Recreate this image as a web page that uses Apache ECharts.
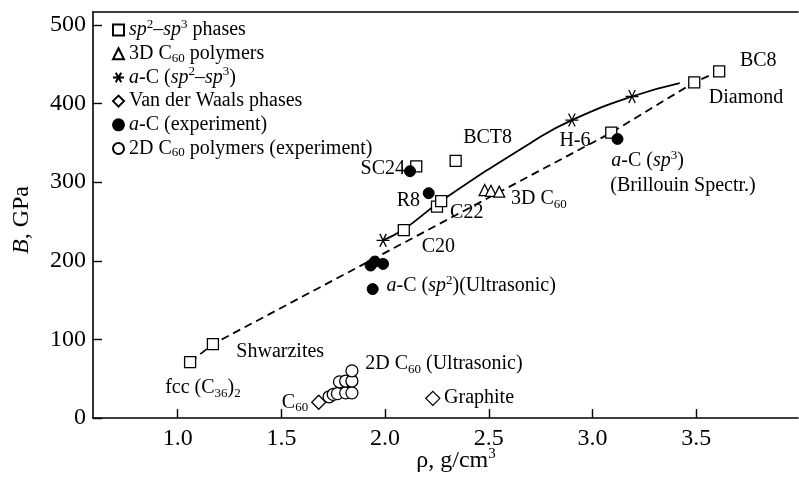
<!DOCTYPE html>
<html>
<head>
<meta charset="utf-8">
<script src="https://cdn.jsdelivr.net/npm/echarts/dist/echarts.min.js"></script>
<style>
  html, body { margin: 0; padding: 0; background: #fff; }
  #chart { width: 799px; height: 479px; }
</style>
</head>
<body>
<div id="chart"></div>
<script>
// Axis ticks
const xTicks = [1.0, 1.5, 2.0, 2.5, 3.0, 3.5];
const yTicks = [0, 100, 200, 300, 400, 500];

// Bulk modulus B (GPa) versus density rho (g/cm^3)
const sp2sp3Phases = [[1.06, 71], [1.17, 94], [2.09, 239], [2.25, 269], [2.27, 276],
                      [2.15, 320], [2.34, 327], [3.09, 363], [3.49, 427], [3.61, 441]];
const polymers3D = [[2.48, 290], [2.51, 289], [2.55, 288]];
const amorphousCalc = [[1.99, 226], [2.90, 379], [3.19, 409]];
const vanDerWaals = [[1.68, 20], [2.23, 25]];
const amorphousExp = [[1.93, 194], [1.95, 199], [1.99, 196], [1.94, 164],
                      [2.12, 314], [2.21, 286], [3.12, 355]];
const polymers2D = [[1.73, 27], [1.75, 30], [1.77, 31], [1.81, 32], [1.84, 32],
                    [1.78, 46], [1.81, 47], [1.84, 47], [1.84, 60]];

// Trend curves
const trendSolid = [[1.99, 226], [2.09, 240], [2.27, 276], [2.72, 353], [2.90, 379], [3.19, 409], [3.42, 426]];
const trendDashed = [[1.06, 71], [1.17, 94], [3.09, 363], [3.49, 427], [3.61, 441]];

// Legend entries (series name -> rich text)
const legendNames = ['sp2-sp3 phases', '3D C60 polymers', 'a-C (sp2-sp3)',
                     'Van der Waals phases', 'a-C (experiment)', '2D C60 polymers (experiment)'];
const legendText = {
  'sp2-sp3 phases': '{i|sp}{sup|2}–{i|sp}{sup|3} phases',
  '3D C60 polymers': '3D C{sub|60} polymers',
  'a-C (sp2-sp3)': '{i|a}-C ({i|sp}{sup|2}–{i|sp}{sup|3})',
  'Van der Waals phases': 'Van der Waals phases',
  'a-C (experiment)': '{i|a}-C (experiment)',
  '2D C60 polymers (experiment)': '2D C{sub|60} polymers (experiment)'
};

// Point annotations: [rho, B, text, align]
const notes = [
  [3.71, 454, 'BC8', 'left'],
  [3.56, 408, 'Diamond', 'left'],
  [2.84, 353, 'H-6', 'left'],
  [3.09, 327, '{i|a}-C ({i|sp}{sup|3})', 'left'],
  [3.085, 296, '(Brillouin Spectr.)', 'left'],
  [2.096, 317, 'SC24', 'right'],
  [2.376, 356, 'BCT8', 'left'],
  [2.168, 277, 'R8', 'right'],
  [2.313, 261, 'C22', 'left'],
  [2.607, 279, '3D C{sub|60}', 'left'],
  [2.176, 218, 'C20', 'left'],
  [2.007, 168, '{i|a}-C ({i|sp}{sup|2})(Ultrasonic)', 'left'],
  [1.283, 84, 'Shwarzites', 'left'],
  [0.94, 38, 'fcc (C{sub|36}){sub|2}', 'left'],
  [1.629, 20, 'C{sub|60}', 'right'],
  [1.904, 69, '2D C{sub|60} (Ultrasonic)', 'left'],
  [2.284, 26, 'Graphite', 'left']
];

const SERIF = '"Liberation Serif", "DejaVu Serif", serif';
const rich = {
  i: { fontFamily: SERIF, fontStyle: 'italic', fontSize: 20, lineHeight: 24, color: '#000' },
  sup: { fontFamily: SERIF, fontSize: 13, lineHeight: 13, verticalAlign: 'top', color: '#000' },
  sub: { fontFamily: SERIF, fontSize: 13, lineHeight: 13, verticalAlign: 'bottom', color: '#000' }
};

const openMark = { color: '#fff', borderColor: '#000', borderWidth: 1.3, opacity: 1 };
const solidMark = { color: '#000', borderColor: '#000', borderWidth: 1, opacity: 1 };
const starMark = { color: '#000', borderColor: '#000', borderWidth: 1.3, opacity: 1 };
const starPath = 'path://M-1,0L1,0M-0.5,-0.866L0.5,0.866M-0.5,0.866L0.5,-0.866';

function pointSeries(name, data, symbol, size, style) {
  return {
    name, type: 'scatter', data, symbol, symbolSize: size,
    itemStyle: style, z: 3, emphasis: { disabled: true }
  };
}

const chart = echarts.init(document.getElementById('chart'), null, { renderer: 'canvas' });

chart.setOption({
  animation: false,
  backgroundColor: '#fff',
  grid: { left: 93, right: 1, top: 12, bottom: 61 },
  xAxis: [{
    type: 'value', min: 0.592, max: 3.99,
    axisLine: { onZero: false, lineStyle: { color: '#000', width: 1.6 } },
    axisTick: { inside: true, length: 9, customValues: xTicks, lineStyle: { color: '#000', width: 1.4 } },
    axisLabel: { customValues: xTicks, formatter: v => v.toFixed(1), fontFamily: SERIF, fontSize: 24, color: '#000', margin: 9 },
    splitLine: { show: false }
  }, {
    type: 'value', position: 'top', min: 0, max: 1,
    axisLine: { onZero: false, lineStyle: { color: '#000', width: 1.6 } },
    axisTick: { show: false }, axisLabel: { show: false }, splitLine: { show: false }
  }],
  yAxis: {
    type: 'value', min: 0, max: 516.5,
    axisLine: { onZero: false, lineStyle: { color: '#000', width: 1.6 } },
    axisTick: { inside: true, length: 9, customValues: yTicks, lineStyle: { color: '#000', width: 1.4 } },
    axisLabel: { customValues: yTicks, fontFamily: SERIF, fontSize: 24, color: '#000', margin: 7 },
    splitLine: { show: false }
  },
  legend: {
    data: legendNames,
    orient: 'vertical', left: 112, top: 18, padding: 0,
    itemWidth: 11, itemHeight: 11, itemGap: 0.7,
    selectedMode: false,
    formatter: name => legendText[name],
    textStyle: { fontFamily: SERIF, fontSize: 20, lineHeight: 22, color: '#000', rich }
  },
  graphic: [{
    type: 'text', x: 456, y: 461, silent: true,
    style: {
      text: 'ρ, g/cm{s|3}', fontFamily: SERIF, fontSize: 24, lineHeight: 28, fill: '#000',
      align: 'center', verticalAlign: 'middle',
      rich: { s: { fontFamily: SERIF, fontSize: 15, lineHeight: 15, verticalAlign: 'top', fill: '#000' } }
    }
  }, {
    type: 'text', x: 22, y: 220, rotation: Math.PI / 2, silent: true,
    style: {
      text: '{b|B}, GPa', fontFamily: SERIF, fontSize: 24, fill: '#000',
      align: 'center', verticalAlign: 'middle',
      rich: { b: { fontFamily: SERIF, fontStyle: 'italic', fontSize: 24, fill: '#000' } }
    }
  }],
  series: [
    {
      name: 'trend-solid', type: 'line', data: trendSolid, smooth: true, showSymbol: false,
      lineStyle: { color: '#000', width: 1.8, opacity: 1 }, z: 1, silent: true
    },
    {
      name: 'trend-dashed', type: 'line', data: trendDashed, showSymbol: false,
      lineStyle: { color: '#000', width: 1.8, type: [8, 5], opacity: 1 }, z: 1, silent: true
    },
    pointSeries('sp2-sp3 phases', sp2sp3Phases, 'rect', 11, openMark),
    pointSeries('3D C60 polymers', polymers3D, 'triangle', 11, openMark),
    pointSeries('a-C (sp2-sp3)', amorphousCalc, starPath, 13, starMark),
    pointSeries('Van der Waals phases', vanDerWaals, 'diamond', 14, openMark),
    pointSeries('a-C (experiment)', amorphousExp, 'circle', 11, solidMark),
    pointSeries('2D C60 polymers (experiment)', polymers2D, 'circle', 12, openMark),
    {
      name: 'notes', type: 'scatter', symbolSize: 0, silent: true, z: 5,
      itemStyle: { opacity: 1 },
      data: notes.map(n => ({ value: [n[0], n[1]], text: n[2], label: { align: n[3] } })),
      label: {
        show: true, position: 'inside', verticalAlign: 'middle', opacity: 1,
        textBorderWidth: 0, textShadowBlur: 0,
        formatter: p => p.data.text,
        fontFamily: SERIF, fontSize: 20, lineHeight: 24, color: '#000', rich
      }
    }
  ]
});
</script>
</body>
</html>
